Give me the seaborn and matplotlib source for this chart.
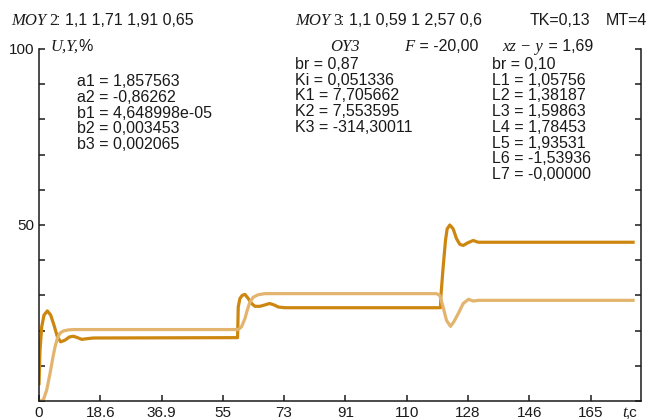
import matplotlib
matplotlib.use("Agg")
import matplotlib.pyplot as plt
import numpy as np
import pandas as pd
import seaborn as sns

# --- data -------------------------------------------------------------
dark_t = [0, 0.3, 0.8, 1.5, 2.5, 3.5, 4.5, 5.5, 6.5, 7.8, 9.1, 10.3, 11.5,
          12.8, 14.3, 16.3, 59.4, 59.5, 59.6, 60.1, 60.8, 61.6, 62.6, 63.6,
          64.6, 66.1, 67.6, 69.0, 70.3, 71.6, 73.6, 120.1, 120.2, 120.9,
          121.6, 122.1, 122.9, 123.9, 124.9, 125.9, 126.9, 128.4, 129.9,
          131.4, 178.2]
dark_v = [4.5, 14.4, 21.0, 24.4, 25.6, 24.4, 21.5, 18.2, 16.8, 17.3, 18.2,
          18.4, 18.0, 17.5, 17.7, 17.9, 18.0, 22.0, 26.7, 29.1, 30.0, 30.3,
          29.1, 27.7, 26.9, 26.9, 27.3, 27.7, 27.3, 26.7, 26.5, 26.5, 29.5,
          38.0, 45.6, 48.9, 50.0, 48.9, 46.1, 44.5, 44.2, 45.0, 45.6, 45.1,
          45.1]

light_t = [0, 0.3, 1.3, 2.3, 3.3, 4.1, 4.8, 5.5, 6.3, 7.3, 8.8, 10.5, 59.6,
           60.6, 61.6, 62.3, 63.1, 64.1, 65.6, 67.6, 70.0, 118.9, 119.9,
           120.9, 121.9, 123.1, 124.1, 125.4, 126.9, 128.5, 129.9, 131.4,
           178.2]
light_v = [0, 0, 0.3, 3.1, 7.8, 12.1, 15.4, 17.8, 19.3, 19.9, 20.2, 20.3,
           20.3, 21.1, 23.4, 25.8, 28.1, 29.5, 30.2, 30.5, 30.5, 30.5, 30.0,
           26.7, 22.9, 21.2, 22.5, 24.8, 27.7, 28.9, 28.4, 28.6, 28.6]

x_tick_labels = ["0", "18.6", "36.9", "55", "73", "91", "110", "128", "146", "165"]
y_ticks = [0, 10, 20, 30, 40, 50, 60, 70, 80, 90, 100]
y_tick_labels = ["", "", "", "", "", "50", "", "", "", "", "100"]

moy2_values = ": 1,1 1,71 1,91 0,65"
moy3_values = ": 1,1 0,59 1 2,57 0,6"
tk_text = "TK=0,13"
mt_text = "MT=4"
f_value = " = -20,00"
xz_value = " = 1,69"

block_a = ["a1 = 1,857563", "a2 = -0,86262", "b1 = 4,648998e-05",
           "b2 = 0,003453", "b3 = 0,002065"]
block_k = ["br = 0,87", "Ki = 0,051336", "K1 = 7,705662", "K2 = 7,553595",
           "K3 = -314,30011"]
block_l = ["br = 0,10", "L1 = 1,05756", "L2 = 1,38187", "L3 = 1,59863",
           "L4 = 1,78453", "L5 = 1,93531", "L6 = -1,53936", "L7 = -0,00000"]

# --- style -------------------------------------------------------------
sns.set_style("ticks")
plt.rcParams["font.family"] = ["Liberation Sans", "DejaVu Sans"]
plt.rcParams["font.size"] = 11

W, H = 651, 420
fig = plt.figure(figsize=(W / 100, H / 100), dpi=100)
ax = fig.add_axes([39 / W, 19 / H, (640.7 - 39) / W, (401 - 49) / H])

dark_col = "#CD8710"
light_col = "#E3B46E"
ink = "#1a1a1a"

df_dark = pd.DataFrame({"t": dark_t, "v": dark_v})
df_light = pd.DataFrame({"t": light_t, "v": light_v})
sns.lineplot(data=df_dark, x="t", y="v", ax=ax, color=dark_col, lw=2.3,
             sort=False, estimator=None, solid_joinstyle="round",
             solid_capstyle="butt")
sns.lineplot(data=df_light, x="t", y="v", ax=ax, color=light_col, lw=2.3,
             sort=False, estimator=None, solid_joinstyle="round",
             solid_capstyle="butt")

ax.set_xlim(0, 180)
ax.set_ylim(0, 100)
ax.set_xlabel("")
ax.set_ylabel("")
ax.set_xticks(np.linspace(0, 165, len(x_tick_labels)))
ax.set_xticklabels(x_tick_labels)
ax.set_yticks(y_ticks)
ax.set_yticklabels(y_tick_labels)

for side in ("left", "right", "bottom"):
    ax.spines[side].set_linewidth(1.1)
    ax.spines[side].set_color(ink)
ax.spines["top"].set_visible(False)
ax.tick_params(axis="x", direction="in", length=4.5, width=1.1, pad=3.5,
               colors=ink, labelsize=11, top=False)
ax.tick_params(axis="y", direction="in", length=4.5, width=1.1, pad=3,
               colors=ink, labelsize=11, left=True, right=True)


def ftext(px, py, s, serif=False, italic=False, size=11.5, **kw):
    fam = ["Liberation Serif"] if serif else ["Liberation Sans", "DejaVu Sans"]
    fig.text(px / W, 1 - py / H, s, va="baseline", ha="left",
             family=fam, style="italic" if italic else "normal",
             fontsize=size, color=ink, **kw)


# header line
ftext(11.7, 25, "MOY", serif=True, italic=True, size=12)
ftext(49, 25, "2", serif=True, size=12)
ftext(56, 25, moy2_values)
ftext(295, 25, "MOY", serif=True, italic=True, size=12)
ftext(333, 25, "3", serif=True, size=12)
ftext(340, 25, moy3_values)
ftext(530, 25, tk_text)
ftext(606, 25, mt_text)

# second header line
ftext(50, 51, "U,Y,", serif=True, italic=True, size=12)
ftext(78, 51, "%")
ftext(330, 51, "OY3", serif=True, italic=True, size=12)
ftext(404, 51, "F", serif=True, italic=True, size=12)
ftext(415, 51, f_value)
ftext(502, 51, "xz \u2212 y", serif=True, italic=True, size=12)
ftext(544, 51, xz_value)

# time unit at the end of the x axis
ftext(622, 417, "t", serif=True, italic=True, size=12)
ftext(626, 417, ",c", size=11)

# parameter blocks
for i, s in enumerate(block_a):
    ftext(77, 86.5 + i * 15.5, s)
for i, s in enumerate(block_k):
    ftext(295, 69 + i * 15.7, s)
for i, s in enumerate(block_l):
    ftext(492, 69 + i * 15.7, s)

fig.savefig("out.png", dpi=100)
